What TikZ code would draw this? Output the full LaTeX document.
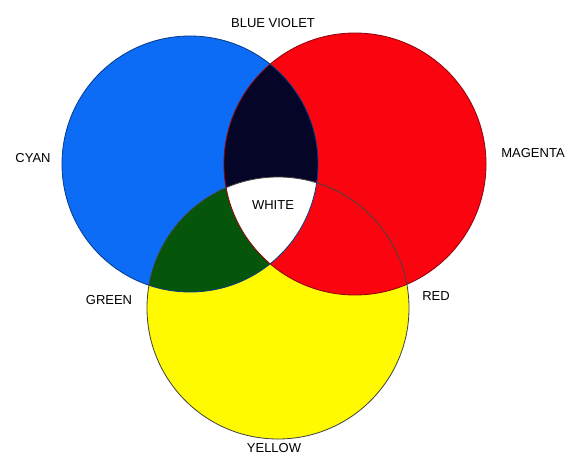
\documentclass[tikz,border=0pt]{standalone}
\usepackage{fontspec}
\setmainfont{Liberation Sans}
\definecolor{cyanfill}{RGB}{12, 108, 245}
\definecolor{magentafill}{RGB}{250, 5, 15}
\definecolor{yellowfill}{RGB}{255, 250, 0}
\definecolor{greenfill}{RGB}{5, 85, 10}
\definecolor{violetfill}{RGB}{5, 5, 40}
\usepackage{tikz}

\begin{document}
\begin{tikzpicture}[
                x=1pt, y=-1pt,
                every node/.style={align=center, font=\fontsize{13}{15}\selectfont, text=black},
                disc/.style={line width=0.8pt},
                lightname/.style={inner sep=1pt}
            ]
                \useasboundingbox[fill=white] (0,0) rectangle (577,457);
                % centres of the three lights
                \coordinate (cyanc) at (190,164);
                \coordinate (magc) at (355,164);
                \coordinate (yelc) at (278,308);
                \def\rc{128pt}
                \def\rm{131pt}
                \def\ry{131pt}

                \fill[cyanfill] (cyanc) circle[radius=\rc];
                \fill[magentafill] (magc) circle[radius=\rm];
                \fill[yellowfill] (yelc) circle[radius=\ry];

                % overlaps
                \begin{scope}
                    \clip (cyanc) circle[radius=\rc];
                    \fill[violetfill] (magc) circle[radius=\rm];
                    \fill[greenfill] (yelc) circle[radius=\ry];
                \end{scope}
                \begin{scope}
                    \clip (magc) circle[radius=\rm];
                    \fill[magentafill] (yelc) circle[radius=\ry];
                \end{scope}
                \begin{scope}
                    \clip (cyanc) circle[radius=\rc];
                    \clip (magc) circle[radius=\rm];
                    \fill[white] (yelc) circle[radius=\ry];
                \end{scope}

                \draw[disc, draw=cyanfill!55!black] (cyanc) circle[radius=\rc];
                \draw[disc, draw=magentafill!55!black] (magc) circle[radius=\rm];
                \draw[disc, draw=black!75] (yelc) circle[radius=\ry];

                \node[lightname] (blueviolet) at (273,23) {BLUE VIOLET};
                \node[lightname] (cyan) at (33,158) {CYAN};
                \node[lightname] (magenta) at (533,153) {MAGENTA};
                \node[lightname] (white) at (273,205) {WHITE};
                \node[lightname] (green) at (109,300) {GREEN};
                \node[lightname] (red) at (436,296) {RED};
                \node[lightname] (yellow) at (274,448) {YELLOW};
            \end{tikzpicture}
\end{document}
